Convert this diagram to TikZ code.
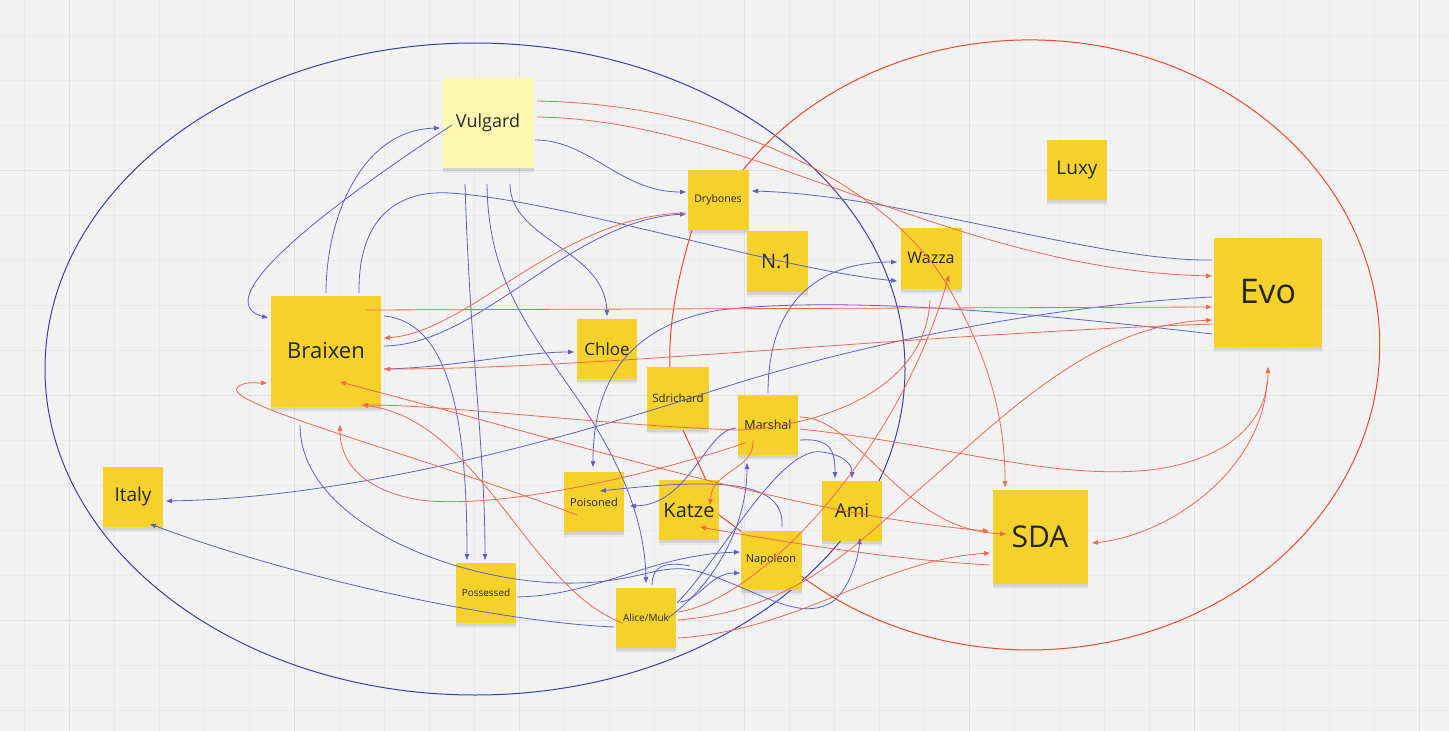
\documentclass[tikz,border=0pt]{standalone}
\usepackage{fontspec}
\setmainfont{Open Sans}
\usetikzlibrary{arrows.meta,shadows}
\definecolor{bg}{HTML}{F2F2F2}
\definecolor{gridminor}{HTML}{EAEAEA}
\definecolor{gridmajor}{HTML}{E0E0E0}
\definecolor{stky}{HTML}{F5D12B}
\definecolor{stkylight}{HTML}{FFF8B0}
\definecolor{lnblue}{RGB}{92,96,200}
\definecolor{lnred}{RGB}{242,104,78}
\definecolor{ellblue}{RGB}{58,62,172}
\definecolor{ellred}{RGB}{240,72,42}
\definecolor{txt}{HTML}{262626}
\pgfdeclarelayer{back}
\pgfsetlayers{back,main}
\tikzset{
  note/.style={rectangle, fill=stky, inner sep=0pt, text=txt, align=center,
    drop shadow={shadow xshift=0pt,shadow yshift=-5pt,opacity=.10},
    drop shadow={shadow xshift=0pt,shadow yshift=-3pt,opacity=.18}},
  fs/.style={font=\fontsize{#1}{#1}\selectfont},
  bl/.style={draw=lnblue, line width=.8pt, -{Triangle[length=6pt,width=4.5pt]}},
  rd/.style={draw=lnred, line width=.8pt, -{Triangle[length=6pt,width=4.5pt]}},
  rdboth/.style={draw=lnred, line width=.8pt, {Triangle[length=6pt,width=4.5pt]}-{Triangle[length=6pt,width=4.5pt]}},
  blplain/.style={draw=lnblue, line width=.8pt},
  loopred/.style={draw=ellred, line width=1pt},
  bigell/.style={draw=ellblue, line width=1pt},
}
\begin{document}
\begin{tikzpicture}[x=1pt,y=-1pt]
\useasboundingbox (0,0) rectangle (1449,731);
\begin{pgfonlayer}{back}
\fill[bg] (0,0) rectangle (1449,731);
\foreach \gx in {24.3,69.3,...,1449} \draw[gridminor,line width=.6pt] (\gx,0) -- (\gx,731);
\foreach \gy in {35,80,...,731} \draw[gridminor,line width=.6pt] (0,\gy) -- (1449,\gy);
\foreach \gx in {69.3,294.3,...,1449} \draw[gridmajor,line width=.9pt] (\gx,0) -- (\gx,731);
\foreach \gy in {170,395,620} \draw[gridmajor,line width=.9pt] (0,\gy) -- (1449,\gy);
\draw[bigell] (475,369) ellipse [x radius=430, y radius=326];
\end{pgfonlayer}

% sticky notes
\node[note, fill=stkylight, minimum width=91pt, minimum height=90pt, fs=18] (vulgard) at (488,123) {Vulgard};
\node[note, minimum width=61pt, minimum height=60pt, fs=10.5] (drybones) at (718,200) {Drybones};
\node[note, minimum width=60pt, minimum height=60pt, fs=19] (luxy) at (1077,170) {Luxy};
\node[note, minimum width=61pt, minimum height=61pt, fs=20] (n1) at (777,261) {N.1};
\node[note, minimum width=61pt, minimum height=61pt, fs=16] (wazza) at (931,258) {Wazza};
\node[note, minimum width=108pt, minimum height=109pt, fs=34] (evo) at (1268,292) {Evo};
\node[note, minimum width=110pt, minimum height=111pt, fs=22] (braixen) at (326,351) {Braixen};
\node[note, minimum width=60pt, minimum height=60pt, fs=17] (chloe) at (607,349) {Chloe};
\node[note, minimum width=62pt, minimum height=62pt, fs=11.5] (sdrichard) at (678,398) {Sdrichard};
\node[note, minimum width=60pt, minimum height=60pt, fs=12.5] (marshal) at (768,425) {Marshal};
\node[note, minimum width=60pt, minimum height=60pt, fs=19] (italy) at (133,497) {Italy};
\node[note, minimum width=60pt, minimum height=60pt, fs=11] (poisoned) at (594,502) {Poisoned};
\node[note, minimum width=60pt, minimum height=60pt, fs=20] (katze) at (689,510) {Katze};
\node[note, minimum width=60pt, minimum height=60pt, fs=19] (ami) at (852,511) {Ami};
\node[note, minimum width=95pt, minimum height=94pt, fs=30] (sda) at (1040,537) {SDA};
\node[note, minimum width=61pt, minimum height=59pt, fs=11] (napoleon) at (771,560) {Napoleon};
\node[note, minimum width=60pt, minimum height=60pt, fs=10] (possessed) at (486,593) {Possessed};
\node[note, minimum width=60pt, minimum height=60pt, fs=10] (alice) at (646,618) {Alice/Muk};

% red loop (behind notes)
\begin{pgfonlayer}{back}
\draw[loopred] ([shift={(25,-30)}]drybones.center) arc[start angle=215, end angle=492, x radius=350, y radius=305];
\draw[loopred] ([shift={(-26,30)}]drybones.center) .. controls (680,270) and (668,320) .. ([shift={(-8,-31)}]sdrichard.center);
\draw[loopred] ([shift={(5,32)}]sdrichard.center) -- ([shift={(17,-30)}]katze.center);
\draw[loopred] ([shift={(30,5)}]katze.center) -- ([shift={(-29,-28)}]napoleon.center);
\end{pgfonlayer}

% blue connectors
\draw[bl] ([shift={(-36,2)}]vulgard.center) .. controls (330,205) and (205,300) .. ([shift={(-58,-33)}]braixen.center);
\draw[bl] ([shift={(0,-58)}]braixen.center) .. controls (326,220) and (360,130) .. ([shift={(-48,5)}]vulgard.center);
\draw[bl] ([shift={(33,-58)}]braixen.center) .. controls (358,215) and (400,190) .. (450,193) .. controls (560,200) and (780,270) .. ([shift={(-34,23)}]wazza.center);
\draw[bl] ([shift={(47,17)}]vulgard.center) .. controls (590,140) and (620,192) .. ([shift={(-32,-8)}]drybones.center);
\draw[bl] ([shift={(-23,61)}]vulgard.center) .. controls (470,350) and (485,450) .. ([shift={(-1,-33)}]possessed.center);
\draw[bl] ([shift={(58,-35)}]braixen.center) .. controls (450,322) and (467,420) .. ([shift={(-19,-33)}]possessed.center);
\draw[bl] ([shift={(-1,61)}]vulgard.center) .. controls (488,280) and (530,330) .. (575,395) .. controls (620,460) and (645,520) .. ([shift={(0,-35)}]alice.center);
\draw[bl] ([shift={(22,61)}]vulgard.center) .. controls (510,240) and (605,250) .. ([shift={(0,-33)}]chloe.center);
\draw[bl] ([shift={(58,-5)}]braixen.center) .. controls (480,345) and (570,220) .. ([shift={(-32,14)}]drybones.center);
\draw[bl] ([shift={(58,18)}]braixen.center) .. controls (450,368) and (520,352) .. ([shift={(-33,3)}]chloe.center);
\draw[bl] ([shift={(-56,-32)}]evo.center) .. controls (1100,262) and (900,195) .. ([shift={(34,-9)}]drybones.center);
\draw[bl] ([shift={(-56,5)}]evo.center) .. controls (1050,305) and (850,345) .. (700,395) .. controls (560,440) and (350,498) .. ([shift={(33,4)}]italy.center);
\draw[bl] ([shift={(-56,42)}]evo.center) .. controls (1050,315) and (850,295) .. (720,310) .. controls (630,325) and (593,380) .. ([shift={(-1,-35)}]poisoned.center);
\draw[bl] ([shift={(0,-32)}]marshal.center) .. controls (768,300) and (820,262) .. ([shift={(-34,4)}]wazza.center);
\draw[bl] ([shift={(-32,3)}]marshal.center) .. controls (705,430) and (690,505) .. ([shift={(36,4)}]poisoned.center);
\draw[bl] ([shift={(11,-33)}]napoleon.center) .. controls (785,480) and (720,478) .. ([shift={(6,-11)}]poisoned.center);
\draw[bl] ([shift={(32,15)}]marshal.center) .. controls (830,438) and (835,450) .. ([shift={(-17,-33)}]ami.center);
\draw[bl] ([shift={(31,-15)}]alice.center) .. controls (720,560) and (780,445) .. (822,452) .. controls (845,455) and (852,465) .. ([shift={(0,-33)}]ami.center);
\draw[bl] ([shift={(22,0)}]alice.center) .. controls (720,580) and (747,520) .. ([shift={(-21,38)}]marshal.center);
\draw[bl] ([shift={(34,-16)}]alice.center) .. controls (700,600) and (710,573) .. ([shift={(-31,13)}]napoleon.center);
\draw[bl] ([shift={(31,4)}]possessed.center) .. controls (600,595) and (650,555) .. ([shift={(-31,-8)}]napoleon.center);
\draw[bl] ([shift={(-26,74)}]braixen.center) .. controls (300,520) and (450,580) .. (560,583) .. controls (640,585) and (660,560) .. (700,572) .. controls (760,590) and (800,625) .. (835,600) .. controls (850,585) and (858,560) .. ([shift={(8,27)}]ami.center);
\coordinate (curlend) at (690,566);
\draw[blplain] ([shift={(6,-33)}]alice.center) .. controls (652,570) and (660,560) .. (curlend);
\draw[bl] ([shift={(-32,9)}]alice.center) .. controls (500,622) and (300,580) .. ([shift={(17,27)}]italy.center);

% red connectors
\draw[rd] ([shift={(-32,13)}]drybones.center) .. controls (560,215) and (470,332) .. ([shift={(58,-13)}]braixen.center);
\draw[rd] ([shift={(49,-22)}]vulgard.center) .. controls (750,105) and (900,200) .. (950,290) .. controls (990,360) and (1005,420) .. ([shift={(-35,-50)}]sda.center);
\draw[rd] ([shift={(49,-6)}]vulgard.center) .. controls (750,120) and (950,270) .. ([shift={(-56,-16)}]evo.center);
\draw[rd] ([shift={(40,-41)}]braixen.center) -- ([shift={(-56,15)}]evo.center);
\draw[rd] ([shift={(-56,32)}]evo.center) .. controls (900,335) and (600,369) .. ([shift={(58,18)}]braixen.center);
\draw[rd] ([shift={(32,2)}]alice.center) .. controls (800,610) and (860,540) .. (930,480) .. controls (1020,400) and (1100,325) .. ([shift={(-56,28)}]evo.center);
\draw[rd] ([shift={(32,-6)}]alice.center) .. controls (760,600) and (900,450) .. ([shift={(18,17)}]wazza.center);
\draw[rd] ([shift={(-1,42)}]wazza.center) .. controls (925,400) and (800,428) .. (737,430) .. controls (600,425) and (450,405) .. ([shift={(36,54)}]braixen.center);
\draw[rd] ([shift={(32,4)}]marshal.center) .. controls (950,445) and (1050,480) .. (1150,470) .. controls (1230,460) and (1268,420) .. ([shift={(0,75)}]evo.center);
\draw[rd] ([shift={(-1,90)}]evo.center) .. controls (1262,470) and (1170,535) .. ([shift={(52,6)}]sda.center);
\draw[rd] ([shift={(32,-8)}]marshal.center) .. controls (860,418) and (900,530) .. ([shift={(-34,-3)}]sda.center);
\draw[rdboth] ([shift={(14,31)}]braixen.center) .. controls (600,450) and (800,515) .. ([shift={(-51,-6)}]sda.center);
\draw[rd] ([shift={(32,20)}]alice.center) .. controls (800,630) and (880,560) .. ([shift={(-50,16)}]sda.center);
\draw[rd] ([shift={(-50,28)}]sda.center) .. controls (900,560) and (800,545) .. ([shift={(11,17)}]katze.center);
\draw[rd] ([shift={(-17,13)}]poisoned.center) .. controls (420,455) and (225,405) .. (237,388) .. controls (243,381) and (255,383) .. ([shift={(-59,32)}]braixen.center);
\draw[rd] ([shift={(-23,18)}]marshal.center) .. controls (650,475) and (500,510) .. (420,500) .. controls (360,490) and (340,460) .. ([shift={(14,74)}]braixen.center);
\draw[rd] ([shift={(-15,15)}]marshal.center) .. controls (755,470) and (712,470) .. ([shift={(21,-5)}]katze.center);
\draw[rd] ([shift={(-23,5)}]alice.center) .. controls (530,590) and (480,420) .. ([shift={(36,54)}]braixen.center);
\end{tikzpicture}
\end{document}
